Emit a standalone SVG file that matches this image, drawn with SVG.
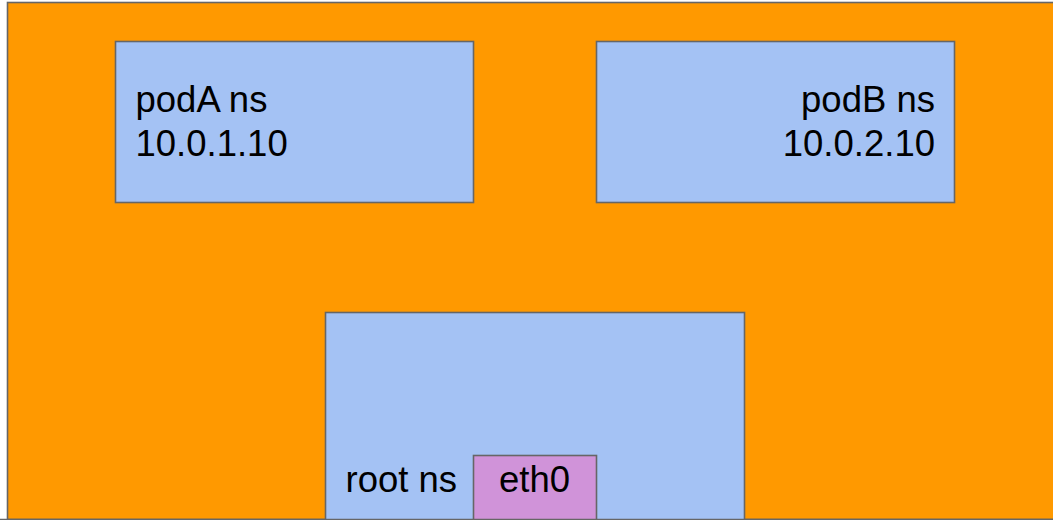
<svg xmlns="http://www.w3.org/2000/svg" width="1053" height="520" viewBox="0 0 1053 520">
<style>
.box{stroke:#666666;stroke-width:1.6}
.ns{fill:#a4c2f4}
.t{font-family:"Liberation Sans",Arial,sans-serif;font-size:36.5px;fill:#000}
</style>
<rect width="1053" height="520" fill="#ffffff"/>
<g id="host">
<rect class="box" x="7.5" y="2.5" width="1060" height="517" fill="#ff9900"/>
</g>
<g id="podA">
<rect class="box ns" x="115.5" y="41.5" width="358" height="161"/>
<text class="t" x="135.5" y="112">podA ns</text>
<text class="t" x="135.5" y="156">10.0.1.10</text>
</g>
<g id="podB">
<rect class="box ns" x="596.5" y="41.5" width="358" height="161"/>
<text class="t" x="935" y="112" text-anchor="end">podB ns</text>
<text class="t" x="935" y="156" text-anchor="end">10.0.2.10</text>
</g>
<g id="root">
<rect class="box ns" x="325.5" y="312.5" width="419" height="220"/>
<text class="t" x="345.5" y="492">root ns</text>
</g>
<g id="eth0">
<rect class="box" x="473.5" y="455.5" width="123" height="80" fill="#d093d9"/>
<text class="t" x="534.5" y="492" text-anchor="middle">eth0</text>
</g>
<g id="connectors"></g>
<line x1="0" y1="519.5" x2="1053" y2="519.5" stroke="#666666" stroke-width="1.6"/>
</svg>
